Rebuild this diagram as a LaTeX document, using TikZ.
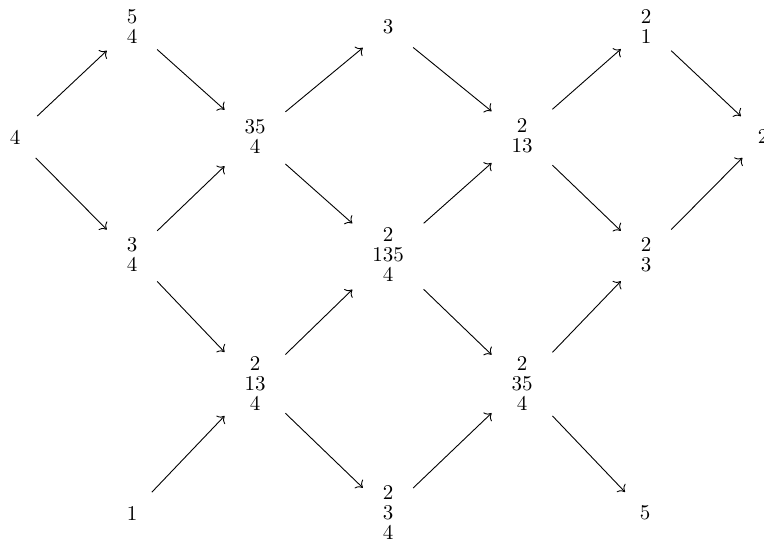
\documentclass[tikz,border=0pt]{standalone}
\usetikzlibrary{arrows.meta}
\tikzset{
  lbl/.style={inner xsep=9.75pt, inner ysep=6.7pt, align=center, font=\fontsize{10.5}{10}\selectfont},
  arr/.style={-{To[length=3pt,width=6pt]}, line width=0.45pt}
}
\begin{document}
\begin{tikzpicture}[x=0.5pt,y=-0.5pt]
\useasboundingbox (0,0) rectangle (764,540);
\node[lbl] (A) at (15,137) {4};
\node[lbl] (B) at (132,27) {5\\4};
\node[lbl] (C) at (132,255) {3\\4};
\node[lbl] (F) at (132,513) {1};
\node[lbl] (D) at (255,137) {35\\4};
\node[lbl] (E) at (255,384) {2\\13\\4};
\node[lbl] (G) at (388,27) {3};
\node[lbl] (H) at (388,255) {2\\135\\4};
\node[lbl] (I) at (388,512) {2\\3\\4};
\node[lbl] (J) at (522,136) {2\\13};
\node[lbl] (K) at (522,384) {2\\35\\4};
\node[lbl] (L) at (646,27) {2\\1};
\node[lbl] (M) at (646,255) {2\\3};
\node[lbl] (N) at (645,513) {5};
\node[lbl] (O) at (763,137) {2};
\draw[arr] (A) -- (B);
\draw[arr] (A) -- (C);
\draw[arr] (B) -- (D);
\draw[arr] (C) -- (D);
\draw[arr] (C) -- (E);
\draw[arr] (F) -- (E);
\draw[arr] (D) -- (G);
\draw[arr] (D) -- (H);
\draw[arr] (E) -- (H);
\draw[arr] (E) -- (I);
\draw[arr] (G) -- (J);
\draw[arr] (H) -- (J);
\draw[arr] (H) -- (K);
\draw[arr] (I) -- (K);
\draw[arr] (J) -- (L);
\draw[arr] (J) -- (M);
\draw[arr] (K) -- (M);
\draw[arr] (K) -- (N);
\draw[arr] (L) -- (O);
\draw[arr] (M) -- (O);
\end{tikzpicture}
\end{document}
